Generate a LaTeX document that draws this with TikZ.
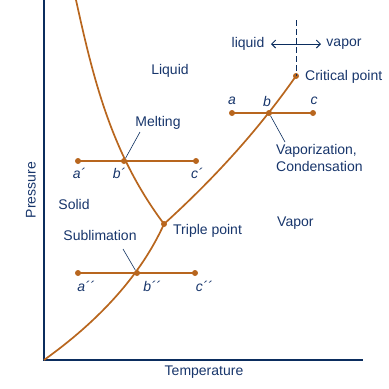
\documentclass[tikz,border=0pt]{standalone}
\usepackage{fontspec}
\setmainfont{Liberation Sans}
\usetikzlibrary{arrows.meta}
\definecolor{navy}{HTML}{0B2D5E}
\definecolor{txt}{HTML}{17356B}
\definecolor{curvec}{HTML}{B8661E}
\begin{document}
\begin{tikzpicture}[x=1pt,y=-1pt,
  axis/.style={draw=navy,line width=1.4pt},
  phase/.style={draw=curvec,line width=1.7pt},
  dot/.style={circle,fill=curvec,inner sep=0pt,minimum size=6pt},
  lbl/.style={text=txt,font=\fontsize{14}{16.7}\selectfont,inner sep=0pt},
  ptl/.style={text=txt,font=\fontsize{14}{16.7}\selectfont\itshape,inner sep=0pt},
  leader/.style={draw=navy,line width=0.6pt}]
\useasboundingbox (0,0) rectangle (389,389);
% axes
\coordinate (O) at (44,360);
\coordinate (ytop) at (44,0);
\coordinate (xend) at (363,360);
\draw[axis] (ytop) -- (O) -- (xend);
% key points
\node[dot] (T) at (164,224) {};
\node[dot] (C) at (296,76) {};
\coordinate (mtop) at (76,0);
% curves
\draw[phase] (O) .. controls (100,320) and (141.5,274) .. (T.center);
\draw[phase] (T.center) .. controls (111.5,154) and (93.6,80) .. (mtop);
\draw[phase] (T.center) .. controls (219,174) and (261,126) .. (C.center);
% horizontal lines
\node[dot] (a) at (232,113) {};
\node[dot] (b) at (269,113) {};
\node[dot] (c) at (313,113) {};
\draw[phase] (a.center) -- (c.center);
\node[dot] (a1) at (78,161) {};
\node[dot] (b1) at (124,161) {};
\node[dot] (c1) at (196,161) {};
\draw[phase] (a1.center) -- (c1.center);
\node[dot] (a2) at (78,273) {};
\node[dot] (b2) at (137,273) {};
\node[dot] (c2) at (195,273) {};
\draw[phase] (a2.center) -- (c2.center);
% point labels
\node[ptl] (la) at (232,101) {a};
\node[ptl] (lb) at (267,101) {b};
\node[ptl] (lc) at (314,101) {c};
\node[ptl] (la1) at (79,173) {a´};
\node[ptl] (lb1) at (119,173) {b´};
\node[ptl] (lc1) at (197,173) {c´};
\node[ptl] (la2) at (86,286) {a´´};
\node[ptl] (lb2) at (152,286) {b´´};
\node[ptl] (lc2) at (204,286) {c´´};
% dashed critical line and arrow
\coordinate (dtop) at (296,20);
\draw[navy,line width=1pt,dash pattern=on 6pt off 3pt] (dtop) -- (C.center);
\node[lbl] (liq) at (248,44) {liquid};
\node[lbl] (vap) at (344,44) {vapor};
\coordinate (arL) at (271,44);
\coordinate (arR) at (321,44);
\draw[navy,line width=1pt,{Straight Barb[length=4pt,width=8pt]}-{Straight Barb[length=4pt,width=8pt]}] (arL) -- (arR);
% region labels
\node[lbl] (liquidl) at (170,71) {Liquid};
\node[lbl] (solid) at (74,204) {Solid};
\node[lbl,anchor=west] (vapor) at (277,223) {Vapor};
\node[lbl,anchor=west] (crit) at (305,77) {Critical point};
\node[lbl,anchor=west] (trip) at (173,231) {Triple point};
\node[lbl] (melt) at (158,123) {Melting};
\node[lbl] (subl) at (100,235) {Sublimation};
\node[lbl,anchor=north west,align=left] (vapc) at (276,144) {Vaporization,\\Condensation};
% leaders
\coordinate (m1) at (140,132);
\coordinate (s1) at (123,249);
\coordinate (v1) at (285,142);
\draw[leader] (m1) -- (b1);
\draw[leader] (s1) -- (b2);
\draw[leader] (v1) -- (b);
% axis labels
\node[lbl,rotate=90] (pres) at (31,190) {Pressure};
\node[lbl] (temp) at (204,372) {Temperature};
\end{tikzpicture}
\end{document}
